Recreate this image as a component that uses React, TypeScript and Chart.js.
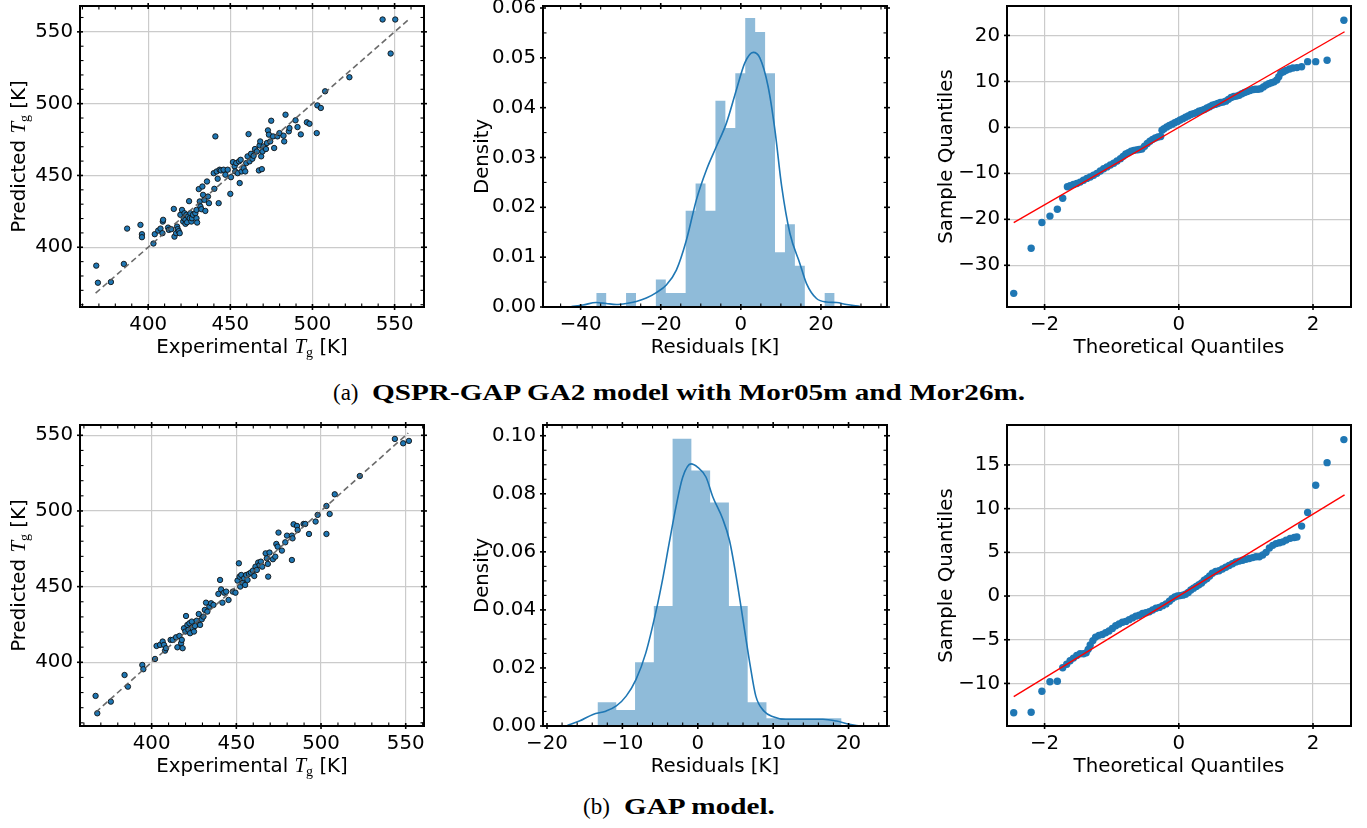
import React, { useEffect, useRef } from "react";
import { Chart, registerables } from "chart.js";

Chart.register(...registerables);

// ================= DATA =================
// (a) QSPR-GAP GA2 — parity plot
const parityA_experimental = [
  368.4, 369.4, 377.3, 385.2, 387.2, 395.3, 396.2, 396.2, 403.2, 404.0, 406.1, 407.5, 408.7, 408.9, 409.1, 412.1,
  412.6, 414.0, 415.6, 416.0, 417.0, 417.6, 418.0, 418.6, 419.2, 419.6, 420.6, 421.3, 421.7, 422.1, 422.7, 422.7,
  423.3, 423.7, 424.3, 424.9, 425.3, 425.7, 426.3, 426.7, 427.3, 428.7, 429.4, 429.4, 429.8, 430.8, 431.4, 431.8,
  432.4, 433.0, 433.4, 434.2, 434.8, 435.8, 436.4, 437.0, 439.9, 440.3, 440.9, 441.7, 442.3, 442.9, 443.5, 444.3,
  445.9, 447.0, 448.4, 450.0, 450.4, 451.6, 452.6, 453.0, 453.6, 454.5, 455.3, 455.7, 456.3, 456.9, 458.1, 459.1,
  459.7, 460.5, 461.1, 461.7, 462.6, 463.4, 464.2, 465.0, 466.2, 467.4, 467.8, 468.2, 468.8, 469.2, 469.6, 470.2,
  471.7, 472.3, 472.9, 473.5, 474.3, 474.9, 476.0, 476.7, 478.7, 479.9, 482.4, 482.8, 483.6, 485.6, 486.0, 489.7,
  490.9, 492.9, 496.6, 498.2, 502.6, 503.0, 505.1, 507.7, 522.5, 542.7, 547.6, 550.4,
];
const parityA_predicted = [
  387.2, 375.3, 375.8, 388.4, 413.0, 415.6, 409.1, 407.0, 402.6, 409.1, 411.6, 413.0, 409.8, 417.9, 419.1, 413.7,
  412.1, 412.6, 426.7, 407.4, 409.8, 414.4, 412.6, 411.2, 409.8, 422.6, 426.0, 417.9, 420.2, 423.7, 419.1, 416.3,
  422.6, 417.4, 421.4, 432.1, 420.2, 423.7, 417.9, 420.2, 422.6, 423.7, 426.0, 420.2, 417.2, 440.5, 431.9, 428.4,
  426.5, 442.3, 436.5, 433.0, 425.3, 445.8, 435.3, 430.7, 451.6, 440.7, 477.2, 452.8, 447.7, 430.7, 454.0, 453.5,
  454.0, 450.5, 454.0, 437.2, 448.8, 459.3, 456.3, 452.8, 458.6, 451.6, 459.8, 444.7, 460.9, 452.8, 455.1, 452.8,
  458.6, 463.3, 478.8, 459.8, 465.1, 461.6, 463.7, 468.4, 466.7, 453.5, 470.9, 473.7, 463.3, 454.4, 466.7, 470.2,
  468.4, 472.6, 481.4, 478.4, 473.7, 488.1, 477.2, 469.1, 477.2, 479.5, 477.7, 473.7, 492.3, 480.7, 483.0, 488.4,
  483.7, 478.6, 487.0, 486.0, 479.5, 498.8, 497.0, 508.6, 518.4, 558.6, 534.9, 558.6,
];
const parityA_lineEnds = [368, 558.5];

// (a) residual histogram + KDE
const histA_edges = [
  -36.1, -33.62, -31.14, -28.66, -26.18, -23.7, -21.22, -18.74, -16.26, -13.78, -11.3, -8.82, -6.34, -3.86, -1.38,
  1.1, 3.58, 6.06, 8.54, 11.02, 13.5, 15.98, 18.46, 20.94, 23.42,
];
const histA_density = [
  0.0028, 0, 0, 0.0028, 0, 0, 0.0055, 0.0028, 0.0028, 0.0193, 0.0248, 0.0193, 0.0414, 0.0359, 0.0469, 0.058,
  0.0552, 0.0469, 0.011, 0.0166, 0.0083, 0, 0, 0.0028,
];
const kdeA_x = [
  -42.3, -39.4, -36.1, -33.6, -31.1, -28.6, -26.1, -23.6, -21.1, -18.6, -16.1, -13.6, -11.1, -8.6, -6.1, -3.6,
  -1.1, 1.0, 3.1, 4.75, 6.8, 8.5, 10.2, 12.25, 14.75, 16.4, 18.9, 21.4, 23.9, 26.4, 29.75,
];
const kdeA_y = [
  0.0001, 0.0004, 0.0009, 0.0007, 0.0005, 0.0007, 0.0011, 0.0018, 0.0029, 0.0044, 0.0074, 0.0134, 0.0215, 0.0275,
  0.0322, 0.0369, 0.0436, 0.049, 0.0511, 0.05, 0.0443, 0.0356, 0.0242, 0.0148, 0.0087, 0.0047, 0.0017, 0.001,
  0.0009, 0.0005, 0.0001,
];

// (a) Q-Q plot
const qqA_theoretical = [
  -2.46, -2.2, -2.04, -1.92, -1.81, -1.73, -1.66, -1.62, -1.57, -1.52, -1.47, -1.42, -1.37, -1.32, -1.27, -1.22,
  -1.17, -1.12, -1.07, -1.02, -0.97, -0.92, -0.87, -0.83, -0.79, -0.75, -0.71, -0.67, -0.63, -0.59, -0.55, -0.51,
  -0.47, -0.43, -0.39, -0.35, -0.31, -0.27, -0.25, -0.22, -0.18, -0.14, -0.1, -0.06, -0.02, 0.02, 0.06, 0.1, 0.14,
  0.18, 0.22, 0.26, 0.3, 0.34, 0.38, 0.42, 0.46, 0.5, 0.54, 0.58, 0.62, 0.66, 0.7, 0.74, 0.78, 0.82, 0.86, 0.9,
  0.94, 0.98, 1.02, 1.06, 1.1, 1.14, 1.18, 1.22, 1.26, 1.3, 1.34, 1.38, 1.42, 1.46, 1.49, 1.52, 1.56, 1.6, 1.65,
  1.7, 1.76, 1.83, 1.92, 2.04, 2.21, 2.46,
];
const qqA_sample = [
  -36.1, -26.3, -20.7, -19.3, -17.8, -15.4, -12.9, -12.7, -12.4, -12.2, -11.9, -11.5, -11.1, -10.8, -10.4, -10.0,
  -9.5, -9.0, -8.6, -8.2, -7.8, -7.3, -6.8, -6.3, -5.8, -5.5, -5.2, -5.0, -4.9, -4.8, -4.7, -4.1, -3.5, -3.0, -2.6,
  -2.3, -2.1, -2.0, -0.6, -0.3, 0.1, 0.4, 0.7, 1.0, 1.3, 1.6, 1.9, 2.2, 2.5, 2.8, 3.0, 3.2, 3.5, 3.7, 3.9, 4.2, 4.5,
  4.8, 5.0, 5.2, 5.4, 5.5, 5.7, 6.1, 6.5, 6.7, 6.8, 7.0, 7.3, 7.6, 7.8, 8.0, 8.2, 8.3, 8.3, 8.4, 8.8, 9.2, 9.5, 9.7,
  9.9, 10.3, 11.0, 11.8, 12.1, 12.4, 12.7, 12.9, 13.0, 13.2, 14.3, 14.3, 14.6, 23.3,
];
const qqA_lineX = [-2.46, 2.47];
const qqA_lineY = [-20.7, 20.8];

// (b) GAP — parity plot
const parityB_experimental = [
  366.9, 367.9, 375.9, 384.0, 386.0, 394.5, 395.1, 402.0, 402.9, 404.9, 406.5, 407.3, 407.9, 408.5, 411.2, 412.4,
  414.4, 415.2, 416.4, 417.4, 417.8, 418.3, 419.1, 419.9, 420.3, 421.1, 421.7, 422.3, 422.7, 423.7, 424.3, 425.0,
  425.6, 426.6, 427.8, 428.6, 429.6, 430.6, 431.4, 432.1, 432.9, 434.1, 435.1, 436.5, 439.4, 440.4, 441.0, 441.8,
  442.8, 444.0, 445.4, 447.9, 449.5, 450.7, 451.5, 451.9, 452.3, 452.9, 453.8, 454.6, 455.2, 455.8, 456.6, 457.4,
  458.6, 459.8, 460.6, 461.3, 462.1, 462.9, 463.7, 464.5, 465.3, 467.3, 468.0, 468.6, 468.8, 469.6, 471.6, 473.0,
  473.6, 474.4, 474.9, 476.9, 478.9, 479.9, 482.8, 483.2, 482.8, 483.8, 485.8, 486.2, 489.7, 490.7, 492.9, 496.8,
  498.0, 503.2, 503.2, 505.1, 508.1, 522.9, 543.6, 548.5, 551.9,
];
const parityB_predicted = [
  377.8, 366.3, 374.0, 391.6, 383.9, 398.2, 395.4, 402.2, 410.8, 411.5, 413.7, 411.5, 407.7, 409.3, 414.8, 414.8,
  416.5, 409.9, 417.4, 412.6, 414.8, 409.3, 422.5, 420.3, 430.6, 424.7, 421.4, 425.8, 419.2, 426.9, 422.5, 420.3,
  424.0, 427.5, 431.9, 424.7, 428.4, 430.2, 434.6, 439.4, 433.5, 436.8, 439.0, 437.9, 445.2, 454.4, 448.2, 439.4,
  446.0, 446.7, 441.2, 446.7, 446.0, 454.0, 465.4, 456.6, 450.0, 457.7, 452.6, 455.5, 451.1, 457.7, 454.4, 458.4,
  459.3, 460.6, 457.0, 463.2, 461.0, 465.9, 464.3, 466.5, 463.2, 472.0, 468.7, 465.0, 456.6, 472.5, 468.1, 469.8,
  478.2, 476.4, 485.7, 473.8, 479.3, 483.7, 483.7, 481.9, 467.6, 491.2, 490.1, 487.4, 491.4, 491.4, 484.8, 493.0,
  497.4, 503.3, 484.8, 498.0, 511.0, 523.1, 547.6, 544.7, 546.3,
];
const parityB_lineEnds = [367, 551.5];

// (b) residual histogram + KDE
const histB_edges = [-13.3, -10.81, -8.32, -5.83, -3.34, -0.85, 1.64, 4.13, 6.62, 9.11, 11.6, 14.09, 16.58, 19.07];
const histB_density = [0.0082, 0.0055, 0.022, 0.0413, 0.099, 0.088, 0.077, 0.0413, 0.0082, 0.0027, 0.0027, 0.0027, 0.0027];
const kdeB_x = [
  -17.3, -15.7, -13.9, -12.2, -10.8, -9.5, -8.2, -6.9, -5.5, -4.6, -3.8, -2.9, -2.0, -0.9, 0, 1.1, 2.0, 3.3, 4.2,
  5.1, 6.0, 6.9, 7.7, 8.8, 10.0, 11.7, 14.4, 16.6, 18.4, 20.1, 21.5,
];
const kdeB_y = [
  0.0002, 0.0017, 0.004, 0.0051, 0.0069, 0.0103, 0.016, 0.0251, 0.04, 0.0514, 0.0629, 0.0754, 0.0857, 0.0903,
  0.0891, 0.0857, 0.0789, 0.0714, 0.064, 0.0514, 0.0366, 0.0217, 0.0103, 0.0051, 0.0032, 0.0023, 0.0023, 0.0023,
  0.0017, 0.0006, 0.0,
];

// (b) Q-Q plot
const qqB_theoretical = [
  -2.46, -2.2, -2.04, -1.92, -1.81, -1.73, -1.67, -1.62, -1.57, -1.52, -1.47, -1.42, -1.38, -1.35, -1.32, -1.28,
  -1.24, -1.19, -1.14, -1.09, -1.04, -0.99, -0.94, -0.89, -0.84, -0.79, -0.74, -0.69, -0.64, -0.59, -0.54, -0.49,
  -0.44, -0.39, -0.34, -0.29, -0.24, -0.19, -0.14, -0.1, -0.06, -0.02, 0.02, 0.06, 0.1, 0.14, 0.18, 0.22, 0.26,
  0.3, 0.34, 0.38, 0.42, 0.46, 0.5, 0.55, 0.6, 0.65, 0.7, 0.75, 0.8, 0.85, 0.9, 0.95, 1.0, 1.05, 1.1, 1.15, 1.2,
  1.25, 1.3, 1.35, 1.4, 1.45, 1.5, 1.55, 1.6, 1.66, 1.72, 1.76, 1.83, 1.92, 2.04, 2.21, 2.46,
];
const qqB_sample = [
  -13.36, -13.3, -10.9, -9.8, -9.75, -8.2, -7.8, -7.4, -7.1, -6.8, -6.6, -6.6, -6.5, -6.1, -5.6, -5.1, -4.7, -4.5,
  -4.4, -4.2, -4.0, -3.7, -3.4, -3.2, -3.0, -2.9, -2.7, -2.5, -2.3, -2.2, -2.0, -1.9, -1.8, -1.6, -1.4, -1.3, -1.1,
  -0.9, -0.6, -0.3, -0.1, 0.0, 0.05, 0.1, 0.2, 0.4, 0.7, 0.9, 1.1, 1.3, 1.5, 1.8, 2.0, 2.3, 2.6, 2.8, 2.9, 3.1, 3.3,
  3.5, 3.7, 3.9, 4.0, 4.1, 4.2, 4.3, 4.4, 4.5, 4.5, 4.7, 5.0, 5.5, 5.8, 6.0, 6.1, 6.2, 6.4, 6.6, 6.7, 6.75, 8.0,
  9.55, 12.67, 15.26, 17.9,
];
const qqB_lineX = [-2.46, 2.47];
const qqB_lineY = [-11.5, 11.57];

// Tick values
const parityTicks = [400, 450, 500, 550];
const histA_xTicks = [-40, -20, 0, 20];
const histA_yTicks = [0, 0.01, 0.02, 0.03, 0.04, 0.05, 0.06];
const histB_xTicks = [-20, -10, 0, 10, 20];
const histB_yTicks = [0, 0.02, 0.04, 0.06, 0.08, 0.1];
const qq_xTicks = [-2, 0, 2];
const qqA_yTicks = [-30, -20, -10, 0, 10, 20];
const qqB_yTicks = [-10, -5, 0, 5, 10, 15];

// ================= STYLE / LAYOUT =================
const BLUE = "#1f77b4";
const FAMILY = "'DejaVu Sans'";
const FS = 19.8;
const TITLE_FONT = `${FS}px ${FAMILY}`;
const MATH_T = "italic 21px 'Liberation Serif'";
const MATH_SUB = "14px 'Liberation Serif'";
const GRID = "#cbcbcb";

type Seg = { text: string; font: string; dy?: number };
type Area = { l: number; t: number; r: number; b: number };
type Box = { left: number; top: number; width: number; height: number };

interface PanelSpec {
  box: Box;
  area: Area;
  xRange: [number, number];
  yRange: [number, number];
  xTicks: number[];
  yTicks: number[];
  xDec: number;
  yDec: number;
  style: "inout" | "qq";
  grid: boolean;
  xMinor?: number;
  yMinor?: number;
  xTitle: Seg[];
  yTitle: Seg[];
  datasets: any[];
}

const ROW1 = { t: 6, b: 307, top: 0, height: 372 };
const ROW2 = { t: 425, b: 726, top: 408, height: 382 };
const COL1 = { l: 80, r: 424, left: 0, width: 470 };
const COL2 = { l: 543, r: 887, left: 470, width: 460 };
const COL3 = { l: 1007, r: 1351, left: 930, width: 437 };

function place(col: typeof COL1, row: typeof ROW1) {
  return {
    box: { left: col.left, top: row.top, width: col.width, height: row.height },
    area: { l: col.l, r: col.r, t: row.t, b: row.b },
  };
}

const fmt = (v: number, d: number) => {
  const s = Math.abs(v) < 1e-12 ? (0).toFixed(d) : v.toFixed(d);
  return s.replace("-", "\u2212");
};

const tgX: Seg[] = [
  { text: "Experimental ", font: TITLE_FONT },
  { text: "T", font: MATH_T },
  { text: "g", font: MATH_SUB, dy: 4 },
  { text: " [K]", font: TITLE_FONT },
];
const tgY: Seg[] = [
  { text: "Predicted ", font: TITLE_FONT },
  { text: "T", font: MATH_T },
  { text: "g", font: MATH_SUB, dy: 4 },
  { text: " [K]", font: TITLE_FONT },
];
const plain = (t: string): Seg[] => [{ text: t, font: TITLE_FONT }];

function parityDatasets(exp: number[], pred: number[], ends: number[]) {
  return [
    {
      type: "line",
      data: ends.map((v) => ({ x: v, y: v })),
      borderColor: "rgba(90,90,90,0.9)",
      borderWidth: 1.6,
      borderDash: [6, 3.5],
      pointRadius: 0,
      fill: false,
      order: 0,
    },
    {
      type: "scatter",
      data: exp.map((x, i) => ({ x, y: pred[i] })),
      backgroundColor: BLUE,
      borderColor: "#111",
      borderWidth: 0.9,
      pointRadius: 2.7,
      order: 1,
    },
  ];
}

// Histogram drawn as a filled step outline (bin edges -> densities), KDE on top
function histDatasets(edges: number[], dens: number[], kx: number[], ky: number[]) {
  return [
    {
      type: "line",
      data: kx.map((x, i) => ({ x, y: ky[i] })),
      borderColor: BLUE,
      borderWidth: 1.6,
      pointRadius: 0,
      cubicInterpolationMode: "monotone",
      fill: false,
      order: 0,
    },
    {
      type: "line",
      data: edges.map((e, i) => ({ x: e, y: dens[Math.min(i, dens.length - 1)] })),
      stepped: "before",
      fill: "origin",
      backgroundColor: "rgba(31,119,180,0.5)",
      borderWidth: 0,
      borderColor: "rgba(0,0,0,0)",
      pointRadius: 0,
      order: 1,
    },
  ];
}

function qqDatasets(theo: number[], samp: number[], lx: number[], ly: number[]) {
  return [
    {
      type: "line",
      data: lx.map((x, i) => ({ x, y: ly[i] })),
      borderColor: "#ff0000",
      borderWidth: 1.4,
      pointRadius: 0,
      fill: false,
      order: 0,
    },
    {
      type: "scatter",
      data: theo.map((x, i) => ({ x, y: samp[i] })),
      backgroundColor: BLUE,
      borderWidth: 0,
      pointRadius: 3.7,
      order: 1,
    },
  ];
}

const PANELS: PanelSpec[] = [
  {
    ...place(COL1, ROW1),
    xRange: [358.5, 567.9], yRange: [358.4, 568],
    xTicks: parityTicks, yTicks: parityTicks, xDec: 0, yDec: 0,
    style: "inout", grid: true, xMinor: 10, yMinor: 10,
    xTitle: tgX, yTitle: tgY,
    datasets: parityDatasets(parityA_experimental, parityA_predicted, parityA_lineEnds),
  },
  {
    ...place(COL2, ROW1),
    xRange: [-49.4, 36.5], yRange: [0, 0.0604],
    xTicks: histA_xTicks, yTicks: histA_yTicks, xDec: 0, yDec: 2,
    style: "inout", grid: false, xMinor: 5, yMinor: 0.005,
    xTitle: plain("Residuals [K]"), yTitle: plain("Density"),
    datasets: histDatasets(histA_edges, histA_density, kdeA_x, kdeA_y),
  },
  {
    ...place(COL3, ROW1),
    xRange: [-2.56, 2.566], yRange: [-39.07, 26.4],
    xTicks: qq_xTicks, yTicks: qqA_yTicks, xDec: 0, yDec: 0,
    style: "qq", grid: true,
    xTitle: plain("Theoretical Quantiles"), yTitle: plain("Sample Quantiles"),
    datasets: qqDatasets(qqA_theoretical, qqA_sample, qqA_lineX, qqA_lineY),
  },
  {
    ...place(COL1, ROW2),
    xRange: [357.7, 560.8], yRange: [357.9, 556.8],
    xTicks: parityTicks, yTicks: parityTicks, xDec: 0, yDec: 0,
    style: "inout", grid: true, xMinor: 10, yMinor: 10,
    xTitle: tgX, yTitle: tgY,
    datasets: parityDatasets(parityB_experimental, parityB_predicted, parityB_lineEnds),
  },
  {
    ...place(COL2, ROW2),
    xRange: [-20.53, 25.1], yRange: [0, 0.1037],
    xTicks: histB_xTicks, yTicks: histB_yTicks, xDec: 0, yDec: 2,
    style: "inout", grid: false, xMinor: 2, yMinor: 0.005,
    xTitle: plain("Residuals [K]"), yTitle: plain("Density"),
    datasets: histDatasets(histB_edges, histB_density, kdeB_x, kdeB_y),
  },
  {
    ...place(COL3, ROW2),
    xRange: [-2.56, 2.566], yRange: [-14.87, 19.57],
    xTicks: qq_xTicks, yTicks: qqB_yTicks, xDec: 0, yDec: 0,
    style: "qq", grid: true,
    xTitle: plain("Theoretical Quantiles"), yTitle: plain("Sample Quantiles"),
    datasets: qqDatasets(qqB_theoretical, qqB_sample, qqB_lineX, qqB_lineY),
  },
];

function drawSegs(ctx: CanvasRenderingContext2D, segs: Seg[], cx: number, baseline: number) {
  const widths = segs.map((s) => {
    ctx.font = s.font;
    return ctx.measureText(s.text).width;
  });
  const total = widths.reduce((a, b) => a + b, 0);
  let x = cx - total / 2;
  ctx.textAlign = "left";
  ctx.textBaseline = "alphabetic";
  segs.forEach((s, i) => {
    ctx.font = s.font;
    ctx.fillText(s.text, x, baseline + (s.dy || 0));
    x += widths[i];
  });
}

function framePlugin(spec: PanelSpec) {
  return {
    id: "frameTicksTitles",
    afterDatasetsDraw(chart: any) {
      const { ctx, chartArea: a, scales } = chart;
      const xs = scales.x;
      const ys = scales.y;
      ctx.save();
      ctx.strokeStyle = "#000";
      ctx.lineCap = "butt";
      const seg = (x1: number, y1: number, x2: number, y2: number) => {
        ctx.beginPath();
        ctx.moveTo(x1, y1);
        ctx.lineTo(x2, y2);
        ctx.stroke();
      };
      const both = spec.style === "inout";
      // major ticks straddling the frame
      ctx.lineWidth = 1.6;
      const M = 3;
      for (const v of spec.xTicks) {
        const p = xs.getPixelForValue(v);
        seg(p, a.bottom + M, p, a.bottom - M);
        if (both) seg(p, a.top - M, p, a.top + M);
      }
      for (const v of spec.yTicks) {
        const p = ys.getPixelForValue(v);
        seg(a.left - M, p, a.left + M, p);
        if (both) seg(a.right + M, p, a.right - M, p);
      }
      // minor ticks (inward)
      ctx.lineWidth = 1.1;
      const m = 3.5;
      const minorVals = (min: number, max: number, step: number, majors: number[]) => {
        const out: number[] = [];
        for (let k = Math.ceil(min / step - 1e-9); k * step <= max + 1e-9; k++) {
          const v = k * step;
          if (!majors.some((mj) => Math.abs(mj - v) < step * 1e-3)) out.push(v);
        }
        return out;
      };
      if (spec.xMinor) {
        for (const v of minorVals(spec.xRange[0], spec.xRange[1], spec.xMinor, spec.xTicks)) {
          const p = xs.getPixelForValue(v);
          seg(p, a.bottom, p, a.bottom - m);
          seg(p, a.top, p, a.top + m);
        }
      }
      if (spec.yMinor) {
        for (const v of minorVals(spec.yRange[0], spec.yRange[1], spec.yMinor, spec.yTicks)) {
          const p = ys.getPixelForValue(v);
          seg(a.left, p, a.left + m, p);
          seg(a.right, p, a.right - m, p);
        }
      }
      // frame
      ctx.lineWidth = 2;
      ctx.strokeRect(a.left, a.top, a.right - a.left, a.bottom - a.top);
      ctx.restore();
    },
    afterDraw(chart: any) {
      const { ctx, chartArea: a } = chart;
      ctx.save();
      ctx.fillStyle = "#000";
      drawSegs(ctx, spec.xTitle, (a.left + a.right) / 2, a.bottom + 46);
      ctx.translate(a.left - 55, (a.top + a.bottom) / 2);
      ctx.rotate(-Math.PI / 2);
      drawSegs(ctx, spec.yTitle, 0, 0);
      ctx.restore();
    },
  };
}

function buildConfig(spec: PanelSpec) {
  const { box, area } = spec;
  const tickFont = { family: FAMILY, size: FS };
  const zeroPad = (s: any) => {
    s.paddingLeft = 0;
    s.paddingRight = 0;
    s.paddingTop = 0;
    s.paddingBottom = 0;
  };
  return {
    type: "scatter",
    data: { datasets: spec.datasets },
    plugins: [framePlugin(spec)],
    options: {
      animation: false,
      responsive: false,
      maintainAspectRatio: false,
      devicePixelRatio: 1,
      events: [],
      layout: {
        padding: { top: area.t - box.top, right: box.left + box.width - area.r, left: 0, bottom: 0 },
      },
      plugins: {
        legend: { display: false },
        tooltip: { enabled: false },
        title: { display: false },
        filler: { propagate: false },
      },
      scales: {
        x: {
          type: "linear",
          position: "bottom",
          min: spec.xRange[0],
          max: spec.xRange[1],
          offset: false,
          afterBuildTicks: (s: any) => {
            s.ticks = spec.xTicks.map((v) => ({ value: v }));
          },
          afterFit: (s: any) => {
            s.height = box.top + box.height - area.b;
            zeroPad(s);
          },
          grid: { display: spec.grid, color: GRID, lineWidth: 1.2, drawTicks: false, offset: false },
          border: { display: false },
          ticks: {
            padding: 5.6,
            font: tickFont,
            color: "#000",
            autoSkip: false,
            maxRotation: 0,
            minRotation: 0,
            callback: (v: number) => fmt(v, spec.xDec),
          },
        },
        y: {
          type: "linear",
          position: "left",
          min: spec.yRange[0],
          max: spec.yRange[1],
          afterBuildTicks: (s: any) => {
            s.ticks = spec.yTicks.map((v) => ({ value: v }));
          },
          afterFit: (s: any) => {
            s.width = area.l - box.left;
            zeroPad(s);
          },
          grid: { display: spec.grid, color: GRID, lineWidth: 1.2, drawTicks: false },
          border: { display: false },
          ticks: {
            padding: 7,
            font: tickFont,
            color: "#000",
            autoSkip: false,
            callback: (v: number) => fmt(v, spec.yDec),
          },
        },
      },
    },
  };
}

function ChartPanel({ spec }: { spec: PanelSpec }) {
  const ref = useRef<HTMLCanvasElement>(null);
  useEffect(() => {
    const chart = new Chart(ref.current as HTMLCanvasElement, buildConfig(spec) as any);
    return () => chart.destroy();
  }, [spec]);
  const { left, top, width, height } = spec.box;
  return (
    <canvas
      ref={ref}
      width={width}
      height={height}
      style={{ position: "absolute", left, top, width, height, display: "block" }}
    />
  );
}

const CAPTION_FONT = "'Liberation Serif', 'DejaVu Serif', serif";

function Caption({ label, bold, labelLeft, boldLeft, top, scale }: {
  label: string; bold: string; labelLeft: number; boldLeft: number; top: number; scale: number;
}) {
  const base: React.CSSProperties = {
    position: "absolute",
    top,
    fontFamily: CAPTION_FONT,
    fontSize: 23,
    lineHeight: "23px",
    whiteSpace: "nowrap",
    color: "#000",
  };
  return (
    <>
      <div style={{ ...base, left: labelLeft }}>{label}</div>
      <div style={{ ...base, left: boldLeft, fontWeight: "bold", transform: `scaleX(${scale})`, transformOrigin: "0 0" }}>
        {bold}
      </div>
    </>
  );
}

export default function App() {
  return (
    <div style={{ position: "absolute", left: 0, top: 0, width: 1367, height: 828, background: "#fff", overflow: "hidden" }}>
      {PANELS.map((p, i) => (
        <ChartPanel key={i} spec={p} />
      ))}
      <Caption label="(a)" bold="QSPR-GAP GA2 model with Mor05m and Mor26m." labelLeft={333} boldLeft={372} top={381} scale={1.27} />
      <Caption label="(b)" bold="GAP model." labelLeft={583} boldLeft={624} top={795} scale={1.27} />
    </div>
  );
}
